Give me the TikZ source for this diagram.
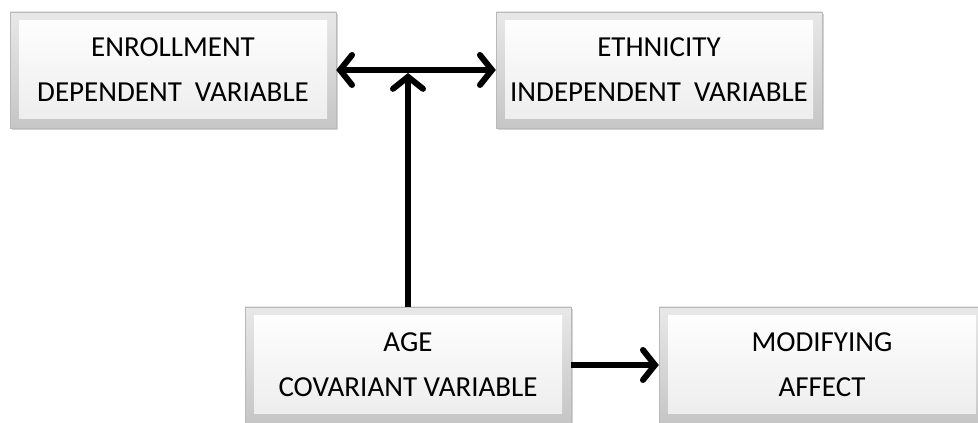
\documentclass[tikz,border=0pt]{standalone}
\usepackage{fontspec}
\setmainfont{Carlito}
\usetikzlibrary{arrows.meta,shadows}

\tikzset{
  varbox/.style={draw=gray!55, top color=gray!18, bottom color=gray!45, minimum width=326pt, minimum height=116pt,
    align=center, font=\fontsize{29}{45}\selectfont,
    drop shadow={shadow xshift=2pt, shadow yshift=-2pt, opacity=0.35},
    path picture={\shade[top color=white, bottom color=gray!15]
      ([shift={(9pt,-9pt)}]path picture bounding box.north west) rectangle
      ([shift={(-9pt,9pt)}]path picture bounding box.south east);}},
  barb/.tip={Straight Barb[length=12pt, width=30pt, line cap=round]},
  link/.style={line width=6pt, -barb}
}

\begin{document}
\begin{tikzpicture}[x=1pt, y=1pt]
                \useasboundingbox (0,0) rectangle (978,423);
                % variables
                \node[varbox] (enroll) at (173,353) {ENROLLMENT\\DEPENDENT~~VARIABLE};
                \node[varbox] (ethnic) at (659,353) {ETHNICITY\\INDEPENDENT~~VARIABLE};
                \node[varbox] (age) at (408,58) {AGE\\COVARIANT VARIABLE};
                \node[varbox] (modify) at (822,58) {MODIFYING\\AFFECT};
                \coordinate (meet) at (age.north |- enroll.east);
                % connectors
                \draw[line width=6pt, barb-barb] (enroll.east) -- (ethnic.west);
                \draw[link, shorten >=3pt] (age.north) -- (meet);
                \draw[link] (age.east) -- (modify.west);
            \end{tikzpicture}
\end{document}
